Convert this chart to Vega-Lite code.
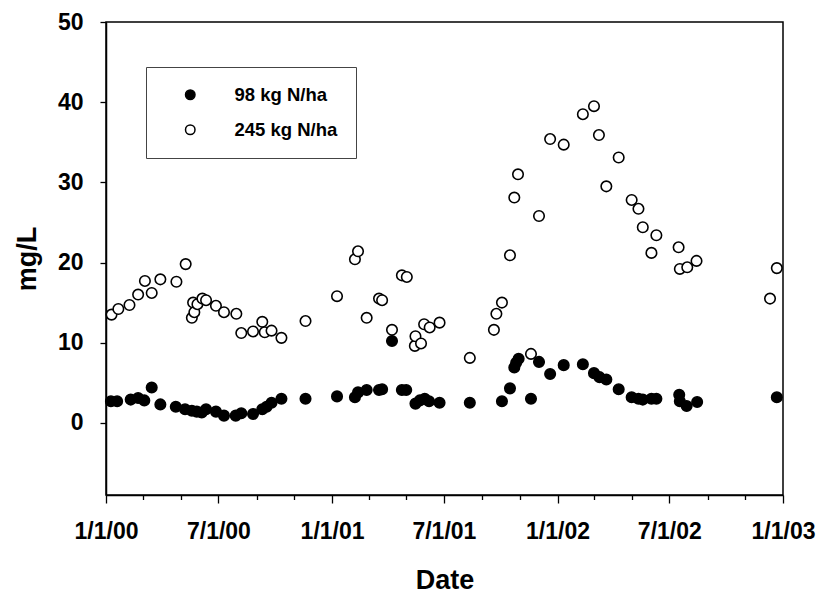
{
  "$schema": "https://vega.github.io/schema/vega-lite/v6.json",
  "autosize": {"type": "none"},
  "padding": {"left": 106, "top": 22, "right": 34, "bottom": 104},
  "width": 677,
  "height": 473,
  "background": "white",
  "config": {
    "font": "Liberation Sans",
    "view": {"stroke": "black", "strokeWidth": 1.5},
    "axis": {
      "domainColor": "black", "domainWidth": 1.5,
      "tickColor": "black", "tickWidth": 1.3,
      "labelColor": "black", "labelFont": "Liberation Sans", "labelFontWeight": "bold", "labelFontSize": 23,
      "titleColor": "black", "titleFont": "Liberation Sans", "titleFontWeight": "bold", "titleFontSize": 27,
      "grid": false
    }
  },
  "data": {
    "values": [
      {"date": "2000-01-09", "series": "98 kg N/ha", "value": 2.7},
      {"date": "2000-01-19", "series": "98 kg N/ha", "value": 2.7},
      {"date": "2000-02-10", "series": "98 kg N/ha", "value": 2.9},
      {"date": "2000-02-22", "series": "98 kg N/ha", "value": 3.1},
      {"date": "2000-03-03", "series": "98 kg N/ha", "value": 2.8},
      {"date": "2000-03-15", "series": "98 kg N/ha", "value": 4.4},
      {"date": "2000-03-29", "series": "98 kg N/ha", "value": 2.3},
      {"date": "2000-04-23", "series": "98 kg N/ha", "value": 2.0},
      {"date": "2000-05-08", "series": "98 kg N/ha", "value": 1.7},
      {"date": "2000-05-19", "series": "98 kg N/ha", "value": 1.5},
      {"date": "2000-05-27", "series": "98 kg N/ha", "value": 1.4},
      {"date": "2000-06-04", "series": "98 kg N/ha", "value": 1.3},
      {"date": "2000-06-11", "series": "98 kg N/ha", "value": 1.7},
      {"date": "2000-06-27", "series": "98 kg N/ha", "value": 1.4},
      {"date": "2000-07-10", "series": "98 kg N/ha", "value": 0.9},
      {"date": "2000-07-29", "series": "98 kg N/ha", "value": 0.9},
      {"date": "2000-08-07", "series": "98 kg N/ha", "value": 1.2},
      {"date": "2000-08-26", "series": "98 kg N/ha", "value": 1.1},
      {"date": "2000-09-10", "series": "98 kg N/ha", "value": 1.7},
      {"date": "2000-09-17", "series": "98 kg N/ha", "value": 2.0},
      {"date": "2000-09-25", "series": "98 kg N/ha", "value": 2.5},
      {"date": "2000-10-11", "series": "98 kg N/ha", "value": 3.0},
      {"date": "2000-11-19", "series": "98 kg N/ha", "value": 3.0},
      {"date": "2001-01-09", "series": "98 kg N/ha", "value": 3.3},
      {"date": "2001-02-07", "series": "98 kg N/ha", "value": 3.2},
      {"date": "2001-02-12", "series": "98 kg N/ha", "value": 3.8},
      {"date": "2001-02-26", "series": "98 kg N/ha", "value": 4.1},
      {"date": "2001-03-18", "series": "98 kg N/ha", "value": 4.1},
      {"date": "2001-03-23", "series": "98 kg N/ha", "value": 4.2},
      {"date": "2001-04-08", "series": "98 kg N/ha", "value": 10.2},
      {"date": "2001-04-24", "series": "98 kg N/ha", "value": 4.1},
      {"date": "2001-05-01", "series": "98 kg N/ha", "value": 4.1},
      {"date": "2001-05-16", "series": "98 kg N/ha", "value": 2.4},
      {"date": "2001-05-23", "series": "98 kg N/ha", "value": 2.8},
      {"date": "2001-05-31", "series": "98 kg N/ha", "value": 3.0},
      {"date": "2001-06-07", "series": "98 kg N/ha", "value": 2.7},
      {"date": "2001-06-24", "series": "98 kg N/ha", "value": 2.5},
      {"date": "2001-08-12", "series": "98 kg N/ha", "value": 2.5},
      {"date": "2001-10-03", "series": "98 kg N/ha", "value": 2.7},
      {"date": "2001-10-16", "series": "98 kg N/ha", "value": 4.3},
      {"date": "2001-10-23", "series": "98 kg N/ha", "value": 6.9},
      {"date": "2001-10-26", "series": "98 kg N/ha", "value": 7.5},
      {"date": "2001-10-30", "series": "98 kg N/ha", "value": 8.0},
      {"date": "2001-11-19", "series": "98 kg N/ha", "value": 3.0},
      {"date": "2001-12-02", "series": "98 kg N/ha", "value": 7.6},
      {"date": "2001-12-20", "series": "98 kg N/ha", "value": 6.1},
      {"date": "2002-01-11", "series": "98 kg N/ha", "value": 7.2},
      {"date": "2002-02-11", "series": "98 kg N/ha", "value": 7.3},
      {"date": "2002-03-01", "series": "98 kg N/ha", "value": 6.2},
      {"date": "2002-03-10", "series": "98 kg N/ha", "value": 5.7},
      {"date": "2002-03-21", "series": "98 kg N/ha", "value": 5.4},
      {"date": "2002-04-10", "series": "98 kg N/ha", "value": 4.2},
      {"date": "2002-05-01", "series": "98 kg N/ha", "value": 3.2},
      {"date": "2002-05-12", "series": "98 kg N/ha", "value": 3.0},
      {"date": "2002-05-19", "series": "98 kg N/ha", "value": 2.9},
      {"date": "2002-06-02", "series": "98 kg N/ha", "value": 3.0},
      {"date": "2002-06-10", "series": "98 kg N/ha", "value": 3.0},
      {"date": "2002-07-17", "series": "98 kg N/ha", "value": 3.5},
      {"date": "2002-07-18", "series": "98 kg N/ha", "value": 2.7},
      {"date": "2002-07-29", "series": "98 kg N/ha", "value": 2.1},
      {"date": "2002-08-15", "series": "98 kg N/ha", "value": 2.6},
      {"date": "2002-12-22", "series": "98 kg N/ha", "value": 3.2},
      {"date": "2000-01-10", "series": "245 kg N/ha", "value": 13.5},
      {"date": "2000-01-21", "series": "245 kg N/ha", "value": 14.2},
      {"date": "2000-02-08", "series": "245 kg N/ha", "value": 14.7},
      {"date": "2000-02-22", "series": "245 kg N/ha", "value": 16.0},
      {"date": "2000-03-04", "series": "245 kg N/ha", "value": 17.7},
      {"date": "2000-03-15", "series": "245 kg N/ha", "value": 16.2},
      {"date": "2000-03-29", "series": "245 kg N/ha", "value": 17.9},
      {"date": "2000-04-24", "series": "245 kg N/ha", "value": 17.6},
      {"date": "2000-05-09", "series": "245 kg N/ha", "value": 19.8},
      {"date": "2000-05-19", "series": "245 kg N/ha", "value": 13.1},
      {"date": "2000-05-21", "series": "245 kg N/ha", "value": 15.0},
      {"date": "2000-05-23", "series": "245 kg N/ha", "value": 13.8},
      {"date": "2000-05-28", "series": "245 kg N/ha", "value": 14.8},
      {"date": "2000-06-05", "series": "245 kg N/ha", "value": 15.5},
      {"date": "2000-06-11", "series": "245 kg N/ha", "value": 15.3},
      {"date": "2000-06-27", "series": "245 kg N/ha", "value": 14.6},
      {"date": "2000-07-10", "series": "245 kg N/ha", "value": 13.8},
      {"date": "2000-07-30", "series": "245 kg N/ha", "value": 13.6},
      {"date": "2000-08-07", "series": "245 kg N/ha", "value": 11.2},
      {"date": "2000-08-26", "series": "245 kg N/ha", "value": 11.4},
      {"date": "2000-09-10", "series": "245 kg N/ha", "value": 12.6},
      {"date": "2000-09-14", "series": "245 kg N/ha", "value": 11.3},
      {"date": "2000-09-25", "series": "245 kg N/ha", "value": 11.5},
      {"date": "2000-10-11", "series": "245 kg N/ha", "value": 10.6},
      {"date": "2000-11-19", "series": "245 kg N/ha", "value": 12.7},
      {"date": "2001-01-09", "series": "245 kg N/ha", "value": 15.8},
      {"date": "2001-02-07", "series": "245 kg N/ha", "value": 20.4},
      {"date": "2001-02-12", "series": "245 kg N/ha", "value": 21.4},
      {"date": "2001-02-26", "series": "245 kg N/ha", "value": 13.1},
      {"date": "2001-03-18", "series": "245 kg N/ha", "value": 15.5},
      {"date": "2001-03-23", "series": "245 kg N/ha", "value": 15.3},
      {"date": "2001-04-08", "series": "245 kg N/ha", "value": 11.6},
      {"date": "2001-04-24", "series": "245 kg N/ha", "value": 18.4},
      {"date": "2001-05-02", "series": "245 kg N/ha", "value": 18.2},
      {"date": "2001-05-15", "series": "245 kg N/ha", "value": 9.6},
      {"date": "2001-05-16", "series": "245 kg N/ha", "value": 10.8},
      {"date": "2001-05-25", "series": "245 kg N/ha", "value": 9.9},
      {"date": "2001-05-30", "series": "245 kg N/ha", "value": 12.3},
      {"date": "2001-06-08", "series": "245 kg N/ha", "value": 11.9},
      {"date": "2001-06-24", "series": "245 kg N/ha", "value": 12.5},
      {"date": "2001-08-12", "series": "245 kg N/ha", "value": 8.1},
      {"date": "2001-09-20", "series": "245 kg N/ha", "value": 11.6},
      {"date": "2001-09-24", "series": "245 kg N/ha", "value": 13.6},
      {"date": "2001-10-03", "series": "245 kg N/ha", "value": 15.0},
      {"date": "2001-10-16", "series": "245 kg N/ha", "value": 20.9},
      {"date": "2001-10-23", "series": "245 kg N/ha", "value": 28.1},
      {"date": "2001-10-29", "series": "245 kg N/ha", "value": 31.0},
      {"date": "2001-11-19", "series": "245 kg N/ha", "value": 8.6},
      {"date": "2001-12-02", "series": "245 kg N/ha", "value": 25.8},
      {"date": "2001-12-20", "series": "245 kg N/ha", "value": 35.4},
      {"date": "2002-01-11", "series": "245 kg N/ha", "value": 34.7},
      {"date": "2002-02-11", "series": "245 kg N/ha", "value": 38.5},
      {"date": "2002-03-01", "series": "245 kg N/ha", "value": 39.5},
      {"date": "2002-03-09", "series": "245 kg N/ha", "value": 35.9},
      {"date": "2002-03-21", "series": "245 kg N/ha", "value": 29.5},
      {"date": "2002-04-10", "series": "245 kg N/ha", "value": 33.1},
      {"date": "2002-05-01", "series": "245 kg N/ha", "value": 27.8},
      {"date": "2002-05-12", "series": "245 kg N/ha", "value": 26.7},
      {"date": "2002-05-19", "series": "245 kg N/ha", "value": 24.4},
      {"date": "2002-06-02", "series": "245 kg N/ha", "value": 21.2},
      {"date": "2002-06-10", "series": "245 kg N/ha", "value": 23.4},
      {"date": "2002-07-16", "series": "245 kg N/ha", "value": 21.9},
      {"date": "2002-07-18", "series": "245 kg N/ha", "value": 19.2},
      {"date": "2002-07-30", "series": "245 kg N/ha", "value": 19.4},
      {"date": "2002-08-14", "series": "245 kg N/ha", "value": 20.2},
      {"date": "2002-12-11", "series": "245 kg N/ha", "value": 15.5},
      {"date": "2002-12-22", "series": "245 kg N/ha", "value": 19.3}
    ]
  },
  "mark": {"type": "point", "shape": "circle", "filled": true, "stroke": "black", "strokeWidth": 1.6, "size": 110, "opacity": 1},
  "encoding": {
    "x": {
      "field": "date", "type": "temporal", "title": "Date",
      "scale": {"type": "utc", "domain": [{"year": 2000, "month": 1, "date": 1, "utc": true}, {"year": 2003, "month": 1, "date": 1, "utc": true}], "nice": false},
      "axis": {
        "values": [
          {"year": 2000, "month": 1, "date": 1, "utc": true}, {"year": 2000, "month": 3, "date": 1, "utc": true},
          {"year": 2000, "month": 5, "date": 1, "utc": true}, {"year": 2000, "month": 7, "date": 1, "utc": true},
          {"year": 2000, "month": 9, "date": 1, "utc": true}, {"year": 2000, "month": 11, "date": 1, "utc": true},
          {"year": 2001, "month": 1, "date": 1, "utc": true}, {"year": 2001, "month": 3, "date": 1, "utc": true},
          {"year": 2001, "month": 5, "date": 1, "utc": true}, {"year": 2001, "month": 7, "date": 1, "utc": true},
          {"year": 2001, "month": 9, "date": 1, "utc": true}, {"year": 2001, "month": 11, "date": 1, "utc": true},
          {"year": 2002, "month": 1, "date": 1, "utc": true}, {"year": 2002, "month": 3, "date": 1, "utc": true},
          {"year": 2002, "month": 5, "date": 1, "utc": true}, {"year": 2002, "month": 7, "date": 1, "utc": true},
          {"year": 2002, "month": 9, "date": 1, "utc": true}, {"year": 2002, "month": 11, "date": 1, "utc": true},
          {"year": 2003, "month": 1, "date": 1, "utc": true}
        ],
        "labelExpr": "utcmonth(datum.value) % 6 == 0 ? utcFormat(datum.value, '%-m/%-d/%y') : ''",
        "tickSize": {"condition": {"test": "utcmonth(datum.value) % 6 == 0", "value": 8}, "value": 4.5},
        "labelPadding": 17,
        "labelFlush": false,
        "labelOverlap": false,
        "titleX": 338.5,
        "titleY": 85,
        "titleBaseline": "middle"
      }
    },
    "y": {
      "field": "value", "type": "quantitative", "title": "mg/L",
      "scale": {"domain": [-9, 50], "nice": false, "zero": false},
      "axis": {
        "values": [0, 10, 20, 30, 40, 50],
        "tickSize": 6,
        "labelPadding": 17,
        "titleX": -79,
        "titleY": 236.5,
        "titleBaseline": "middle",
        "titleAngle": -90
      }
    },
    "fill": {
      "field": "series", "type": "nominal",
      "scale": {"domain": ["98 kg N/ha", "245 kg N/ha"], "range": ["black", "white"]},
      "legend": {
        "orient": "none", "legendX": 40, "legendY": 45,
        "title": null,
        "fillColor": "white", "strokeColor": "#444",
        "padding": 18.5,
        "symbolOffset": 16.5,
        "symbolSize": 90,
        "symbolStrokeColor": "black", "symbolStrokeWidth": 1.5,
        "labelFont": "Liberation Sans", "labelFontWeight": "bold", "labelFontSize": 18.5, "labelColor": "black",
        "labelOffset": 35,
        "rowPadding": 16
      }
    },
    "order": {"field": "series", "sort": "descending"}
  }
}
